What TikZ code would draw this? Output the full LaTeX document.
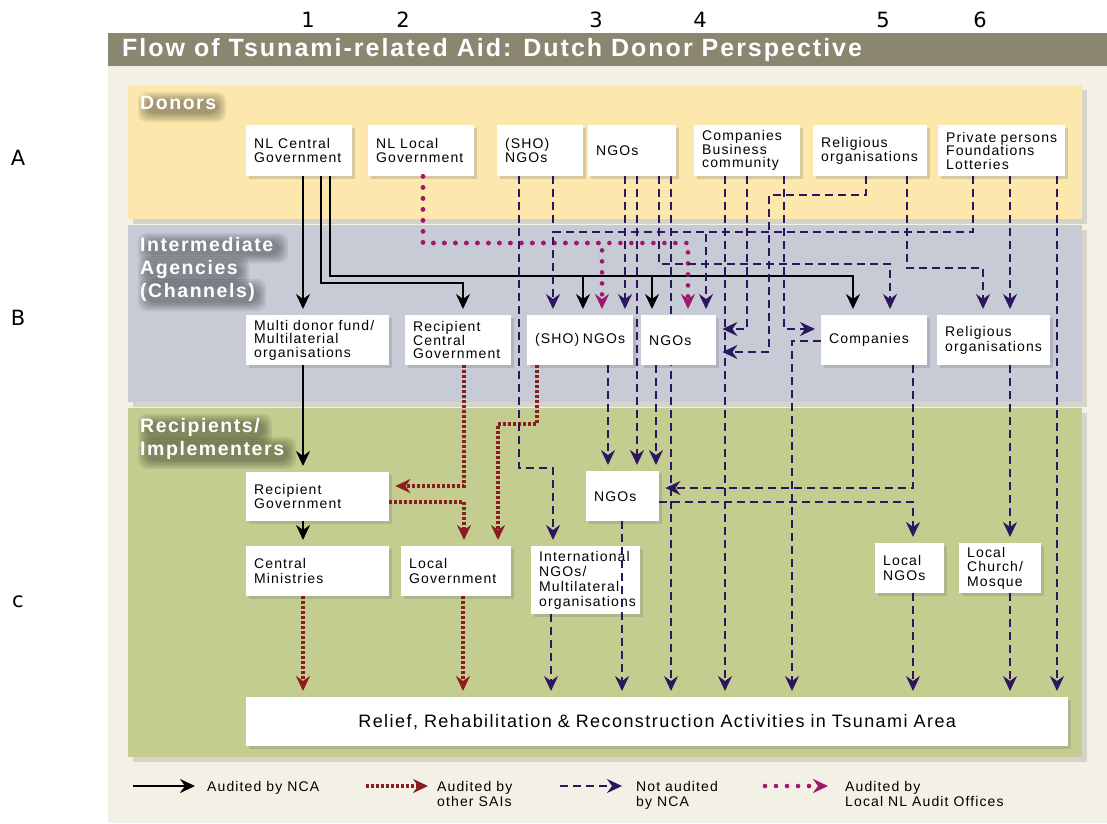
\documentclass[tikz,border=0pt]{standalone}
\usepackage{fontspec}
\setmainfont{Liberation Sans}[LetterSpace=8]
\newfontfamily\markfont{DejaVu Sans}
\usetikzlibrary{arrows.meta, shadows, backgrounds}

\definecolor{cream}{HTML}{F3F0E5}
\definecolor{titlebar}{HTML}{8A8670}
\definecolor{donorband}{HTML}{FCE8AD}
\definecolor{agencyband}{HTML}{C6CBD6}
\definecolor{recipband}{HTML}{C4CD90}
\definecolor{nlpurple}{HTML}{2D1660}
\definecolor{saired}{HTML}{8C1B22}
\definecolor{nlmagenta}{HTML}{A1166F}

\tikzset{
  aidbox/.style 2 args={fill=white, anchor=north west, text width=#1, minimum height=#2,
    inner xsep=8pt, inner ysep=2pt, align=flush left, font=\fontsize{14}{14.5}\selectfont,
    drop shadow={shadow xshift=3pt, shadow yshift=-3pt, opacity=.3}},
  band/.style={drop shadow={shadow xshift=5pt, shadow yshift=-5pt, opacity=.25}},
  flowtip/.style={-{Stealth[length=15pt, width=14pt, inset=5pt]}},
  nca/.style={flowtip, black, line width=2.2pt, shorten >=6pt},
  sai/.style={flowtip, saired, line width=3.4pt, dash pattern=on 2.6pt off 2.4pt, shorten >=6pt},
  notnca/.style={flowtip, nlpurple, line width=2pt, dash pattern=on 8pt off 5pt, shorten >=6pt},
  localnl/.style={flowtip, nlmagenta, line width=4.6pt, line cap=round, dash pattern=on 0pt off 11pt, shorten >=6pt},
  bandtitle/.style={anchor=north west, white, inner sep=0pt, align=left, font=\bfseries\fontsize{19.5}{23}\selectfont},
  legendtext/.style={anchor=north west, inner sep=0pt, align=left, font=\fontsize{14}{15}\selectfont},
  colmark/.style={font=\markfont\fontsize{21}{21}\selectfont, inner sep=0pt}
}

\begin{document}
\begin{tikzpicture}[x=1pt, y=-1pt]
\useasboundingbox (0,0) rectangle (1107,823);
\begin{pgfonlayer}{background}
\fill[white] (0,0) rectangle (1107,823);
\fill[cream] (108,66) rectangle (1107,823);
\fill[titlebar] (108,33) rectangle (1107,66);
\fill[donorband, band] (128,85) rectangle (1082,219);
\fill[agencyband, band] (128,225) rectangle (1082,402);
\fill[recipband, band] (128,408) rectangle (1082,757);
\end{pgfonlayer}

% column and row marks
\foreach \lab/\x in {1/308, 2/403, 3/596, 4/700, 5/883, 6/980}
  \node[colmark] (col\lab) at (\x,20) {\lab};
\foreach \lab/\y in {A/158, B/318, c/602}
  \node[colmark] (row\lab) at (18,\y) {\lab};

\node[anchor=west, white, inner sep=0pt, font=\bfseries\fontsize{25}{25}\selectfont] (title) at (122,50)
  {Flow of Tsunami-related Aid: Dutch Donor Perspective};

% soft shadows under the band titles
\foreach \xa/\ya/\xb/\yb in {146/100/218/114, 146/241/280/255, 146/264/241/280, 146/287/258/303, 146/422/264/438, 146/445/288/461}
  \foreach \g in {0,2,4,6,8}
    \fill[black, opacity=.08, rounded corners=9pt] (\xa-\g,\ya-\g) rectangle (\xb+\g,\yb+\g);
\node[bandtitle] (donorlab) at (140,96) {Donors};
\node[bandtitle] (agencylab) at (140,237) {Intermediate\\Agencies\\(Channels)};
\node[bandtitle] (reciplab) at (140,418) {Recipients/\\Implementers};

% donors
\node[aidbox={90pt}{51pt}] (nlcg) at (246,125) {NL~Central\\Government};
\node[aidbox={90pt}{51pt}] (nllg) at (368,125) {NL~Local\\Government};
\node[aidbox={70pt}{51pt}] (shod) at (497,125) {(SHO)\\NGOs};
\node[aidbox={72pt}{51pt}] (ngod) at (588,125) {NGOs};
\node[aidbox={90pt}{51pt}, font=\fontsize{14}{13.5}\selectfont] (compd) at (694,125) {Companies\\Business\\community};
\node[aidbox={98pt}{51pt}] (reld) at (813,125) {Religious\\organisations};
\node[aidbox={111pt}{51pt}, font=\fontsize{14}{13.5}\selectfont] (privd) at (938,125) {Private~persons\\Foundations\\Lotteries};

% intermediate agencies
\node[aidbox={127pt}{50pt}, font=\fontsize{14}{13.5}\selectfont] (multi) at (246,315) {Multi~donor~fund/\\Multilaterial\\organisations};
\node[aidbox={90pt}{50pt}, font=\fontsize{14}{13.5}\selectfont] (rcg) at (405,315) {Recipient\\Central\\Government};
\node[aidbox={90pt}{50pt}] (shoi) at (527,315) {(SHO)~NGOs};
\node[aidbox={59pt}{50pt}] (ngoi) at (641,315) {NGOs};
\node[aidbox={90pt}{50pt}] (compi) at (821,315) {Companies};
\node[aidbox={97pt}{50pt}] (reli) at (937,315) {Religious\\organisations};

% recipients
\node[aidbox={127pt}{49pt}] (rg) at (246,472) {Recipient\\Government};
\node[aidbox={127pt}{50pt}] (cm) at (246,546) {Central\\Ministries};
\node[aidbox={94pt}{50pt}] (lg) at (401,546) {Local\\Government};
\node[aidbox={93pt}{68pt}, font=\fontsize{14}{15}\selectfont] (intl) at (531,546) {International\\NGOs/\\Multilateral\\organisations};
\node[aidbox={57pt}{50pt}] (ngor) at (586,471) {NGOs};
\node[aidbox={53pt}{50pt}] (lngo) at (875,543) {Local\\NGOs};
\node[aidbox={66pt}{50pt}] (lcm) at (959,543) {Local\\Church/\\Mosque};
\node[aidbox={806pt}{49pt}, align=center, font=\fontsize{18}{18}\selectfont] (relief) at (246,697)
  {Relief, Rehabilitation \& Reconstruction Activities in Tsunami Area};

% line passing behind the NGOs box
\begin{pgfonlayer}{background}
\draw[notnca] (671,0 |- ngod.south) -- (671,0 |- relief.north);
\end{pgfonlayer}

% audited by NCA
\draw[nca] (303,0 |- nlcg.south) -- (303,0 |- multi.north);
\draw[nca] (321,0 |- nlcg.south) |- (463,283) -- (463,0 |- rcg.north);
\draw[nca] (330,0 |- nlcg.south) |- (853,276) -- (853,0 |- compi.north);
\draw[nca] (330,0 |- nlcg.south) |- (583,276) -- (583,0 |- shoi.north);
\draw[nca] (330,0 |- nlcg.south) |- (652,276) -- (652,0 |- ngoi.north);
\draw[nca] (303,0 |- multi.south) -- (303,0 |- rg.north);
\draw[nca] (303,0 |- rg.south) -- (303,0 |- cm.north);

% local NL audit offices
\draw[localnl] (423,0 |- nllg.south) |- (688,243) -- (688,0 |- ngoi.north);
\draw[localnl] (423,0 |- nllg.south) |- (602,243) -- (602,0 |- shoi.north);

% other SAIs
\draw[sai] (464,0 |- rcg.south) |- (rg.east |- 0,486);
\draw[sai] (rg.east |- 0,502) -| (464,0 |- lg.north);
\draw[sai] (537,0 |- shoi.south) |- (498,424) -- (498,0 |- lg.north);
\draw[sai] (303,0 |- cm.south) -- (303,0 |- relief.north);
\draw[sai] (463,0 |- lg.south) -- (463,0 |- relief.north);

% not audited by NCA
\coordinate (shojoin) at (553,232);
\draw[notnca] (519,0 |- shod.south) |- (553,468) -- (553,0 |- intl.north);
\draw[notnca, -] (553,0 |- shod.south) -- (shojoin);
\draw[notnca] (973,0 |- privd.south) |- (shojoin) -- (553,0 |- shoi.north);
\draw[notnca] (973,0 |- privd.south) |- (706,232) -- (706,0 |- ngoi.north);
\draw[notnca] (625,0 |- ngod.south) -- (625,0 |- shoi.north);
\draw[notnca] (637,0 |- ngod.south) -- (637,0 |- ngor.north);
\draw[notnca] (659,0 |- ngod.south) |- (890,264) -- (890,0 |- compi.north);
\draw[notnca] (725,0 |- compd.south) -- (725,0 |- relief.north);
\draw[notnca] (747,0 |- compd.south) |- (ngoi.east |- 0,329);
\draw[notnca] (784,0 |- compd.south) |- (compi.west |- 0,329);
\draw[notnca] (866,0 |- reld.south) |- (769,195) |- (ngoi.east |- 0,352);
\draw[notnca] (907,0 |- reld.south) |- (983,268) -- (983,0 |- reli.north);
\draw[notnca] (1010,0 |- privd.south) -- (1010,0 |- reli.north);
\draw[notnca] (1057,0 |- privd.south) -- (1057,0 |- relief.north);
\draw[notnca] (608,0 |- shoi.south) -- (608,0 |- ngor.north);
\draw[notnca] (656,0 |- ngoi.south) -- (656,0 |- ngor.north);
\draw[notnca] (compi.west |- 0,341) -| (792,0 |- relief.north);
\draw[notnca] (913,0 |- compi.south) |- (ngor.east |- 0,488);
\draw[notnca] (ngor.east |- 0,502) -| (913,0 |- lngo.north);
\draw[notnca] (913,0 |- lngo.south) -- (913,0 |- relief.north);
\draw[notnca] (1010,0 |- reli.south) -- (1010,0 |- lcm.north);
\draw[notnca] (1010,0 |- lcm.south) -- (1010,0 |- relief.north);
\draw[notnca] (622,0 |- ngor.south) -- (622,0 |- relief.north);
\draw[notnca] (551,0 |- intl.south) -- (551,0 |- relief.north);

% legend
\coordinate (lga) at (133,786);
\coordinate (lgb) at (366,786);
\coordinate (lgc) at (560,786);
\coordinate (lgd) at (765,786);
\node[legendtext] (lgat) at (207,781) {Audited by NCA};
\node[legendtext] (lgbt) at (437,781) {Audited by\\other SAIs};
\node[legendtext] (lgct) at (636,781) {Not audited\\by NCA};
\node[legendtext] (lgdt) at (845,781) {Audited by\\Local NL Audit Offices};
\draw[nca, shorten >=12pt] (lga) -- (lga -| lgat.west);
\draw[sai, shorten >=9pt] (lgb) -- (lgb -| lgbt.west);
\draw[notnca, shorten >=14pt] (lgc) -- (lgc -| lgct.west);
\draw[localnl, shorten >=17pt] (lgd) -- (lgd -| lgdt.west);
\end{tikzpicture}
\end{document}
